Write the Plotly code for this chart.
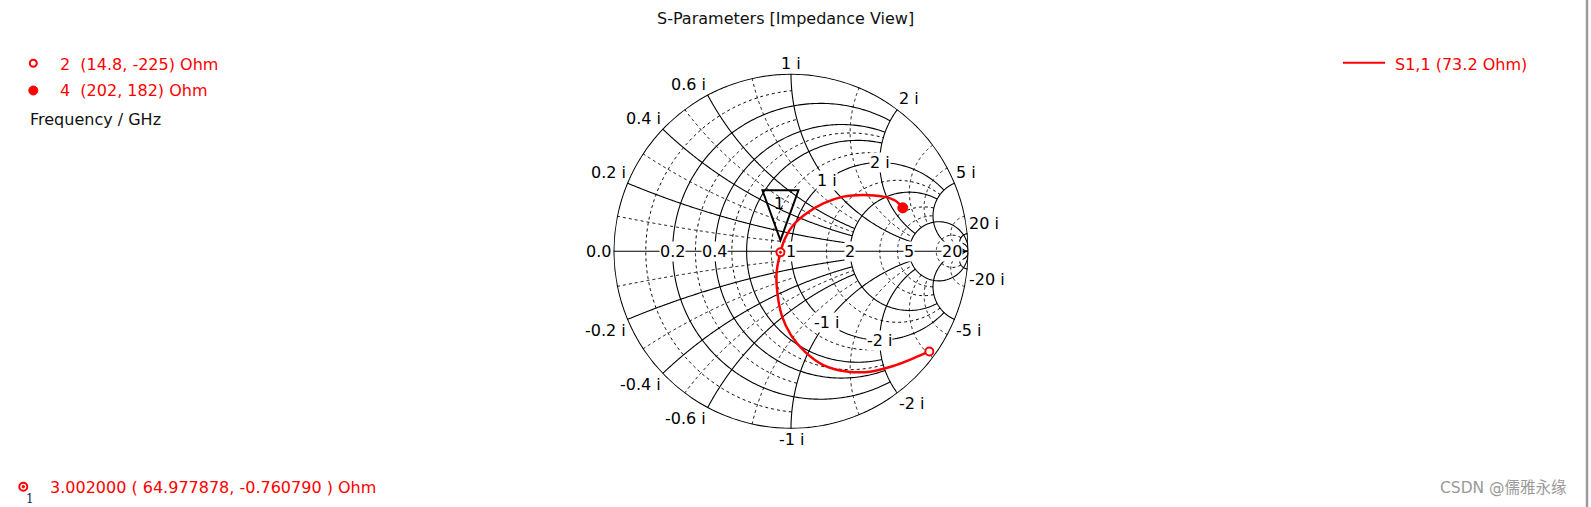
import numpy as np
import plotly.graph_objects as go

W, H = 1591, 507
FONT = "DejaVu Sans"
RED = "#ff0000"
GRID = "#000000"

Z0 = 73.2  # reference impedance of S1,1 (Ohm)

# ---------------- data ----------------
# S1,1 impedance (Ohm) along the sweep, 2 GHz -> 4 GHz
s11_re = [14.8, 25.7, 30.8, 32.6, 34.9, 37.7, 42.1, 46.5, 51.1, 56.6, 60.5,
          64.98, 67.7, 71.9, 79.0, 88.2, 101.2, 118.8, 142.8, 166.2, 202.0]
s11_im = [-225.0, -191.8, -158.4, -129.3, -106.7, -86.9, -71.0, -56.5, -43.2,
          -28.3, -15.1, -0.76, 9.9, 21.8, 35.7, 53.3, 76.2, 102.7, 138.6,
          165.4, 182.0]

# curve markers: frequency (GHz), impedance (Ohm)
mk_freq = [2, 4]
mk_re = [14.8, 202]
mk_im = [-225, 182]
mk_filled = [False, True]

# active marker 1
m1_freq = 3.002
m1_re = 64.977878
m1_im = -0.760790

# tick labels
real_ticks = [0.2, 0.4, 1, 2, 5, 20]
imag_ticks = [0.2, 0.4, 0.6, 1, 2, 5, 20]
inner_ticks = [1, 2]  # reactance labels placed on the r = 1 circle

# grid lines: value -> limit of the other coordinate
INF = np.inf
outer_r = {0: INF}
major_r = {0.2: 2, 0.4: 2, 0.6: 2, 1: 5, 2: 5, 5: INF, 20: INF}
major_x = {0: INF, 0.2: 2, 0.4: 2, 0.6: 2, 1: 5, 2: 5, 5: INF, 20: INF}
minor_r = {0.1: 1, 0.3: 1, 0.5: 2, 0.8: 2, 1.5: 5, 3: 5, 4: 5, 10: 20}
minor_x = {0.1: 1, 0.3: 1, 0.5: 2, 0.8: 2, 1.5: 5, 3: 5, 4: 5, 10: 20}

# ---------------- layout geometry ----------------
CX, CY, RAD = 791.0, 251.3, 177.5
dom_x = [(CX - RAD) / W, (CX + RAD) / W]
dom_y = [1 - (CY + RAD) / H, 1 - (CY - RAD) / H]


def smax(lim):
    return np.arctan(lim) if np.isfinite(lim) else np.pi / 2 - 1e-3


def build_grid(rdict, xdict, n=301):
    re, im = [], []
    for r, lim in rdict.items():
        s = np.linspace(-smax(lim), smax(lim), n)
        re += [float(r)] * n + [None]
        im += [float(v) for v in np.tan(s)] + [None]
    for x, lim in xdict.items():
        s = np.linspace(0, smax(lim), n)
        rr = [float(v) for v in np.tan(s)]
        for sign in ([1] if x == 0 else [1, -1]):
            re += rr + [None]
            im += [float(sign * x)] * n + [None]
    return re, im


fig = go.Figure()

ore, oim = build_grid(outer_r, {}, n=721)
fig.add_trace(go.Scattersmith(real=ore, imag=oim, mode="lines",
                              line=dict(color=GRID, width=2),
                              hoverinfo="skip", showlegend=False))
sre, sim = build_grid(major_r, major_x)
fig.add_trace(go.Scattersmith(real=sre, imag=sim, mode="lines",
                              line=dict(color=GRID, width=1.1),
                              hoverinfo="skip", showlegend=False))
dre, dim = build_grid(minor_r, minor_x)
fig.add_trace(go.Scattersmith(real=dre, imag=dim, mode="lines",
                              line=dict(color=GRID, width=1, dash="3px,3px"),
                              hoverinfo="skip", showlegend=False))

# S1,1 curve
fig.add_trace(go.Scattersmith(real=np.array(s11_re) / Z0, imag=np.array(s11_im) / Z0,
                              mode="lines", line=dict(color=RED, width=2.5, shape="spline"),
                              name="S1,1", showlegend=False))
# markers 2 and 4
for f, re, im, filled in zip(mk_freq, mk_re, mk_im, mk_filled):
    fig.add_trace(go.Scattersmith(real=[re / Z0], imag=[im / Z0], mode="markers",
                                  marker=dict(symbol="circle", size=10 if filled else 8,
                                              color=RED if filled else "white",
                                              line=dict(color=RED, width=1 if filled else 2)),
                                  showlegend=False))
# marker 1
fig.add_trace(go.Scattersmith(real=[m1_re / Z0], imag=[m1_im / Z0], mode="markers",
                              marker=dict(symbol="circle-dot", size=8, color="white",
                                          line=dict(color=RED, width=2)),
                              showlegend=False))

# invisible cartesian overlay in the reflection plane (for labels / callout)
fig.add_trace(go.Scatter(x=[], y=[], xaxis="x", yaxis="y", showlegend=False, hoverinfo="skip"))

ann = []


def gam(z):
    return (z - 1) / (z + 1)


def ann_g(z, text, xa, ya, bg="rgba(0,0,0,0)", xs=0, ys=0, color="black", size=16):
    g = gam(z)
    ann.append(dict(x=float(g.real), y=float(g.imag), xref="x", yref="y", text=text,
                    showarrow=False, xanchor=xa, yanchor=ya, xshift=xs, yshift=ys,
                    bgcolor=bg, borderpad=0,
                    font=dict(family=FONT, size=size, color=color)))


# real axis labels
ann_g(0 + 0j, "0.0", "right", "middle", xs=-2)
for r in real_ticks:
    ann_g(complex(r, 0), f"{r:g}", "center", "middle", bg="white")
# outer reactance labels
for x in imag_ticks:
    for sign in (1, -1):
        xa = "right" if x < 1 else ("center" if x == 1 else "left")
        ya = "bottom" if sign > 0 else "top"
        txt = f"{x:g} i" if sign > 0 else f"-{x:g} i"
        ann_g(complex(0, sign * x), txt, xa, ya)
# inner reactance labels on r = 1
for x in inner_ticks:
    for sign in (1, -1):
        txt = f"{x:g} i" if sign > 0 else f"-{x:g} i"
        ann_g(complex(1, sign * x), txt, "center", "middle", bg="white")

# marker 1 call-out
z1 = complex(m1_re, m1_im) / Z0
g1 = gam(z1)
ann_g(z1, "1", "center", "middle", ys=49, xs=-1)
shapes = [dict(type="path", xref="x", yref="y", xsizemode="pixel", ysizemode="pixel",
               xanchor=float(g1.real), yanchor=float(g1.imag),
               path="M-18,62 L18,62 L0,12 Z", line=dict(color="black", width=2),
               fillcolor="rgba(0,0,0,0)", layer="above")]


def P(px, py):
    return px / W, 1 - py / H


def ann_p(px, py, text, xa="left", ya="middle", color="black", size=16, family=FONT):
    x, y = P(px, py)
    ann.append(dict(x=x, y=y, xref="paper", yref="paper", text=text, showarrow=False,
                    xanchor=xa, yanchor=ya, borderpad=0,
                    font=dict(family=family, size=size, color=color)))


def ring(px, py, d, fill, lw):
    x, y = P(px, py)
    shapes.append(dict(type="circle", xref="paper", yref="paper", xsizemode="pixel",
                       ysizemode="pixel", xanchor=x, yanchor=y, x0=-d / 2, x1=d / 2,
                       y0=-d / 2, y1=d / 2, line=dict(color=RED, width=lw), fillcolor=fill))


# title
ann_p(785, 18.8, "S-Parameters [Impedance View]", xa="center", color="#111111")

# left legend
ring(33.3, 63.3, 7, "white", 2)
ring(33.3, 90.5, 9, RED, 1)
rows_y = [64.2, 90.8]
for f, re, im, yy in zip(mk_freq, mk_re, mk_im, rows_y):
    ann_p(58.5, yy, f"{f:g}\u00a0 ({re:g}, {im:g}) Ohm", color=RED)
ann_p(28.5, 119.2, "Frequency / GHz", color="#111111")

# right legend
lx0, ly = P(1343, 62.7)
lx1, _ = P(1385, 62.7)
shapes.append(dict(type="line", xref="paper", yref="paper", x0=lx0, x1=lx1, y0=ly, y1=ly,
                   line=dict(color=RED, width=2)))
ann_p(1393.5, 64.2, f"S1,1 ({Z0:g} Ohm)", color=RED)

# bottom marker readout
ring(23.3, 486.7, 8, "white", 2)
ring(23.3, 486.7, 2.5, RED, 1)
ann_p(30, 498.5, "1", xa="center", color="#1a1f4d", size=12, family="DejaVu Serif")
ann_p(48.5, 487.5, f"{m1_freq:.6f} ( {m1_re:.6f}, {m1_im:.6f} ) Ohm", color=RED)

# watermark
ann_p(1439, 488, "CSDN @儒雅永缘", color="#9a9a9a", size=15.5,
      family="DejaVu Sans, Noto Sans CJK SC")

# window frame edge on the right
ex, _ = P(1587, 0)
shapes.append(dict(type="line", xref="paper", yref="paper", x0=ex, x1=ex, y0=0, y1=1,
                   line=dict(color="#9c9c9c", width=2.5), layer="above"))

fig.update_layout(
    width=W, height=H, margin=dict(l=0, r=0, t=0, b=0),
    paper_bgcolor="white", plot_bgcolor="rgba(0,0,0,0)",
    smith=dict(domain=dict(x=dom_x, y=dom_y), bgcolor="rgba(0,0,0,0)",
               realaxis=dict(showgrid=False, showline=False, showticklabels=False, ticks=""),
               imaginaryaxis=dict(showgrid=False, showline=False, showticklabels=False, ticks="")),
    xaxis=dict(domain=dom_x, range=[-1, 1], visible=False, fixedrange=True),
    yaxis=dict(domain=dom_y, range=[-1, 1], visible=False, fixedrange=True),
    annotations=ann, shapes=shapes, showlegend=False,
)

fig.write_html("out.html", config={"displayModeBar": False},
               post_script="document.body.style.margin='0';document.body.style.overflow='hidden';")
